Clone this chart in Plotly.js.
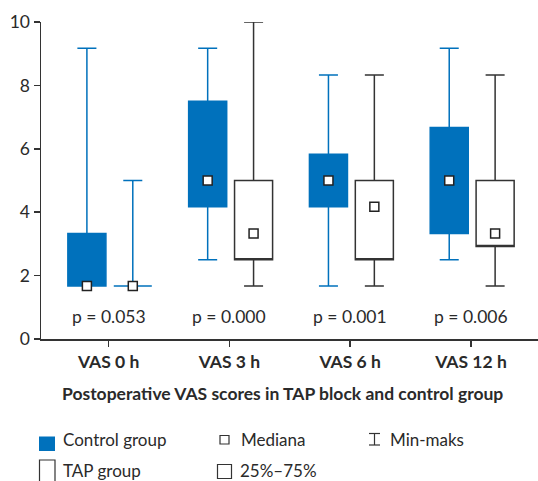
<!DOCTYPE html>
<html>
<head>
<meta charset="utf-8">
<script src="https://cdn.plot.ly/plotly-3.0.1.min.js"></script>
<style>html,body{margin:0;padding:0;background:#fff;}#chart{width:538px;height:481px;}</style>
</head>
<body>
<div id="chart"></div>
<script>
// ---- data ----
const categories = ["VAS 0 h", "VAS 3 h", "VAS 6 h", "VAS 12 h"];
const pValues = ["p = 0.053", "p = 0.000", "p = 0.001", "p = 0.006"];

const controlMin    = [1.67, 2.5, 1.67, 2.5];
const controlQ1     = [1.67, 4.17, 4.17, 3.33];
const controlMedian = [1.67, 5.0, 5.0, 5.0];
const controlQ3     = [3.33, 7.5, 5.83, 6.67];
const controlMax    = [9.17, 9.17, 8.33, 9.17];

const tapMin    = [1.67, 1.67, 1.67, 1.67];
const tapQ1     = [1.67, 2.5, 2.5, 2.92];
const tapMedian = [1.67, 3.33, 4.17, 3.33];
const tapQ3     = [1.67, 5.0, 5.0, 5.0];
const tapMax    = [5.0, 10.0, 8.33, 8.33];

// ---- style ----
const BLUE = "#0071bc";
const DARK = "#333333";
const TXT = "#2a2a2a";
const FONT = "Lato, 'Open Sans', sans-serif";
const tapLineColors = [BLUE, DARK, DARK, DARK];
const offCtrl = -0.18, offTap = 0.2, boxW = 0.315;

const traces = [];
categories.forEach((c, i) => {
  // the box's own median line is placed on q1 (hidden on the edge); medians are drawn as square markers below
  traces.push({
    type: "box", x: [i + offCtrl],
    q1: [controlQ1[i]], median: [controlQ1[i]], q3: [controlQ3[i]],
    lowerfence: [controlMin[i]], upperfence: [controlMax[i]],
    width: boxW, whiskerwidth: 0.5,
    fillcolor: BLUE, line: {color: BLUE, width: 1.5},
    hoverinfo: "skip", showlegend: false
  });
  traces.push({
    type: "box", x: [i + offTap],
    q1: [tapQ1[i]], median: [tapQ1[i]], q3: [tapQ3[i]],
    lowerfence: [tapMin[i]], upperfence: [tapMax[i]],
    width: boxW, whiskerwidth: 0.5,
    fillcolor: "#ffffff", line: {color: tapLineColors[i], width: 1.5},
    hoverinfo: "skip", showlegend: false
  });
});
traces.push({
  type: "scatter", mode: "markers",
  x: categories.map((c, i) => i + offCtrl).concat(categories.map((c, i) => i + offTap)),
  y: controlMedian.concat(tapMedian),
  marker: {symbol: "square", size: 9, color: "#ffffff", line: {color: "#222", width: 1.5}},
  hoverinfo: "skip", showlegend: false, cliponaxis: false
});

// pixel -> paper helpers for legend / title placement
const L = 41, T = 22, W = 497, H = 317;
const px = x => (x - L) / W;
const py = y => (T + H - y) / H;

const annotations = pValues.map((p, i) => ({
  x: i, y: 0.71, xref: "x", yref: "y", text: p, showarrow: false,
  xanchor: "center", yanchor: "middle",
  font: {family: FONT, size: 17.5, color: TXT}
}));
annotations.push({
  x: px(282), y: py(393), xref: "paper", yref: "paper", showarrow: false,
  xanchor: "center", yanchor: "middle",
  text: "<b>Postoperative VAS scores in TAP block and control group</b>",
  font: {family: FONT, size: 17.5, color: TXT}
});
const legTexts = [
  ["Control group", 61, 439.5], ["TAP group", 61, 470],
  ["Mediana", 239, 439.5], ["25%–75%", 238, 470], ["Min-maks", 388, 439.5]
];
legTexts.forEach(t => annotations.push({
  x: px(t[1]), y: py(t[2]), xref: "paper", yref: "paper", xanchor: "left", yanchor: "middle",
  showarrow: false, text: t[0], font: {family: FONT, size: 17, color: TXT}
}));

const rect = (x0, y0, x1, y1, fill, line) => ({
  type: "rect", xref: "paper", yref: "paper",
  x0: px(x0), x1: px(x1), y0: py(y0), y1: py(y1),
  fillcolor: fill, line: line
});
const seg = (x0, y0, x1, y1) => ({
  type: "line", xref: "paper", yref: "paper",
  x0: px(x0), x1: px(x1), y0: py(y0), y1: py(y1),
  line: {color: DARK, width: 1.2}
});
const shapes = [
  rect(39, 436.5, 55, 451, BLUE, {width: 0}),
  rect(39.5, 460, 55, 490, "rgba(0,0,0,0)", {color: DARK, width: 1.2}),
  rect(220, 435.5, 229, 444, "#fff", {color: DARK, width: 1.2}),
  rect(217.5, 464.5, 231.5, 478.5, "#fff", {color: DARK, width: 1.2}),
  seg(374.5, 433.5, 374.5, 445), seg(369, 433.5, 380, 433.5), seg(369, 445, 380, 445)
];

const layout = {
  width: 538, height: 481,
  margin: {l: L, r: 0, t: T, b: 481 - T - H, pad: 0},
  paper_bgcolor: "#fff", plot_bgcolor: "#fff",
  showlegend: false,
  font: {family: FONT, color: TXT},
  xaxis: {
    range: [-0.56, 3.555], tickvals: [0, 1, 2, 3], ticktext: categories,
    showgrid: false, zeroline: false, showline: true, linecolor: DARK, linewidth: 1.5,
    ticks: "outside", ticklen: 6, tickwidth: 1.5, tickcolor: DARK,
    tickfont: {family: FONT, size: 17.5, color: TXT, weight: 700}
  },
  yaxis: {
    range: [0, 10], tickvals: [0, 2, 4, 6, 8, 10],
    showgrid: false, zeroline: false, showline: true, linecolor: DARK, linewidth: 1.5,
    ticks: "outside", ticklen: 6, tickwidth: 1.5, tickcolor: DARK,
    tickfont: {family: FONT, size: 17.5, color: TXT}
  },
  annotations: annotations,
  shapes: shapes
};

Plotly.newPlot("chart", traces, layout, {staticPlot: true, displayModeBar: false});
</script>
</body>
</html>
